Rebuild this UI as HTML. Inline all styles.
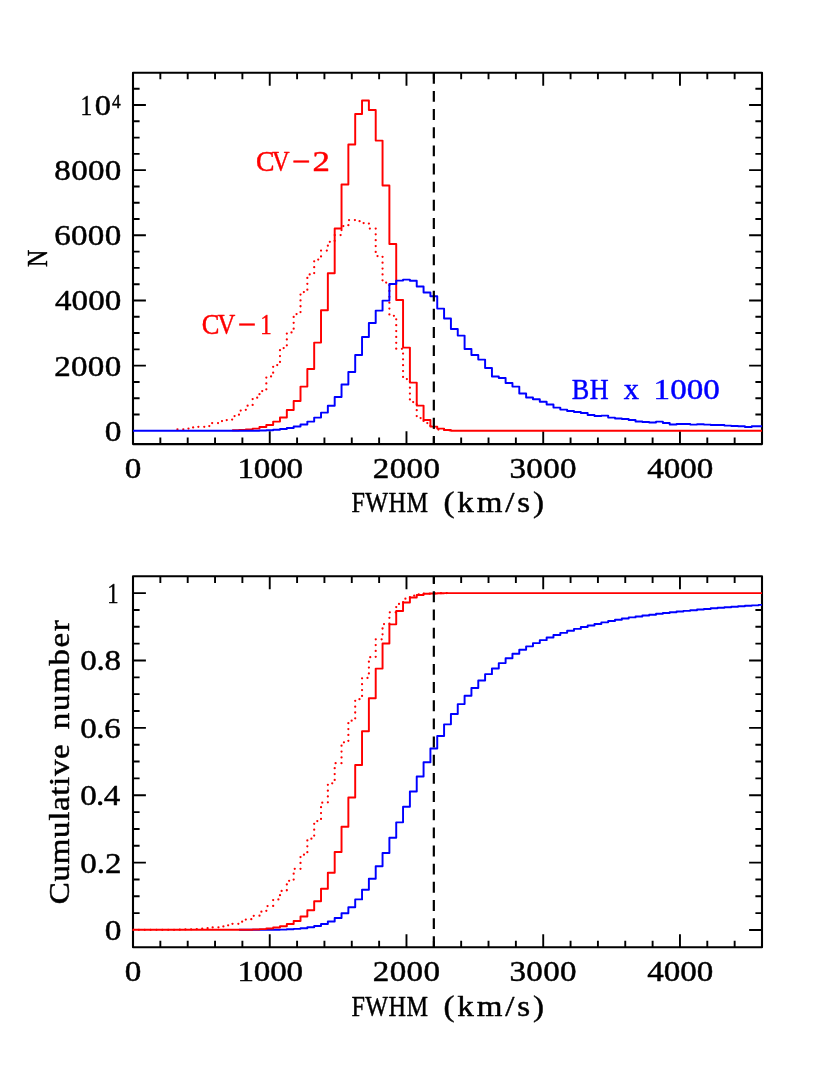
<!DOCTYPE html><html><head><meta charset="utf-8"><title>FWHM distributions</title><style>html,body{margin:0;padding:0;background:#fff}svg{display:block;will-change:transform}text{font-family:"Liberation Serif",serif;font-kerning:none;stroke-width:0.45px;stroke-linejoin:round}.k{fill:#000;stroke:#000}.r{fill:#f00;stroke:#f00}.b{fill:#00f;stroke:#00f}</style></head><body>
<svg width="830" height="1075" viewBox="0 0 830 1075">
<rect width="830" height="1075" fill="#fff"/>
<path d="M133.00 444.1 v-12.9 M133.00 72.75 v12.9 M160.35 444.1 v-6.6 M160.35 72.75 v6.6 M187.70 444.1 v-6.6 M187.70 72.75 v6.6 M215.04 444.1 v-6.6 M215.04 72.75 v6.6 M242.39 444.1 v-6.6 M242.39 72.75 v6.6 M269.74 444.1 v-12.9 M269.74 72.75 v12.9 M297.09 444.1 v-6.6 M297.09 72.75 v6.6 M324.43 444.1 v-6.6 M324.43 72.75 v6.6 M351.78 444.1 v-6.6 M351.78 72.75 v6.6 M379.13 444.1 v-6.6 M379.13 72.75 v6.6 M406.48 444.1 v-12.9 M406.48 72.75 v12.9 M433.83 444.1 v-6.6 M433.83 72.75 v6.6 M461.17 444.1 v-6.6 M461.17 72.75 v6.6 M488.52 444.1 v-6.6 M488.52 72.75 v6.6 M515.87 444.1 v-6.6 M515.87 72.75 v6.6 M543.22 444.1 v-12.9 M543.22 72.75 v12.9 M570.57 444.1 v-6.6 M570.57 72.75 v6.6 M597.91 444.1 v-6.6 M597.91 72.75 v6.6 M625.26 444.1 v-6.6 M625.26 72.75 v6.6 M652.61 444.1 v-6.6 M652.61 72.75 v6.6 M679.96 444.1 v-12.9 M679.96 72.75 v12.9 M707.30 444.1 v-6.6 M707.30 72.75 v6.6 M734.65 444.1 v-6.6 M734.65 72.75 v6.6 M762.00 444.1 v-6.6 M762.00 72.75 v6.6 M133.0 414.51 h6.6 M762.0 414.51 h-6.6 M133.0 398.22 h6.6 M762.0 398.22 h-6.6 M133.0 381.93 h6.6 M762.0 381.93 h-6.6 M133.0 365.64 h12.9 M762.0 365.64 h-12.9 M133.0 349.35 h6.6 M762.0 349.35 h-6.6 M133.0 333.06 h6.6 M762.0 333.06 h-6.6 M133.0 316.77 h6.6 M762.0 316.77 h-6.6 M133.0 300.48 h12.9 M762.0 300.48 h-12.9 M133.0 284.19 h6.6 M762.0 284.19 h-6.6 M133.0 267.90 h6.6 M762.0 267.90 h-6.6 M133.0 251.61 h6.6 M762.0 251.61 h-6.6 M133.0 235.32 h12.9 M762.0 235.32 h-12.9 M133.0 219.03 h6.6 M762.0 219.03 h-6.6 M133.0 202.74 h6.6 M762.0 202.74 h-6.6 M133.0 186.45 h6.6 M762.0 186.45 h-6.6 M133.0 170.16 h12.9 M762.0 170.16 h-12.9 M133.0 153.87 h6.6 M762.0 153.87 h-6.6 M133.0 137.58 h6.6 M762.0 137.58 h-6.6 M133.0 121.29 h6.6 M762.0 121.29 h-6.6 M133.0 105.00 h12.9 M762.0 105.00 h-12.9 M133.0 88.71 h6.6 M762.0 88.71 h-6.6" stroke="#000" stroke-width="1.9" fill="none"/>
<rect x="133.0" y="72.75" width="629.0" height="371.35" fill="none" stroke="#000" stroke-width="2.1" stroke-linejoin="round"/>
<clipPath id="c72"><rect x="132.4" y="72.75" width="630.2" height="371.35"/></clipPath>
<g clip-path="url(#c72)" fill="none" stroke-linejoin="round">
<path d="M177.44 429.30 L184.28 429.30 L184.28 428.60 L191.11 428.60 L191.11 427.40 L197.95 427.40 L197.95 426.80 L204.79 426.80 L204.79 426.00 L211.62 426.00 L211.62 423.00 L218.46 423.00 L218.46 421.10 L225.30 421.10 L225.30 420.00 L232.14 420.00 L232.14 416.10 L238.97 416.10 L238.97 410.50 L245.81 410.50 L245.81 405.70 L252.65 405.70 L252.65 397.70 L259.48 397.70 L259.48 391.00 L266.32 391.00 L266.32 376.40 L273.16 376.40 L273.16 365.00 L279.99 365.00 L279.99 348.00 L286.83 348.00 L286.83 332.40 L293.67 332.40 L293.67 314.00 L300.51 314.00 L300.51 292.00 L307.34 292.00 L307.34 274.40 L314.18 274.40 L314.18 259.50 L321.02 259.50 L321.02 250.50 L327.85 250.50 L327.85 241.80 L334.69 241.80 L334.69 235.00 L341.53 235.00 L341.53 226.00 L348.36 226.00 L348.36 220.00 L355.20 220.00 L355.20 221.20 L362.04 221.20 L362.04 223.00 L368.88 223.00 L368.88 228.50 L375.71 228.50 L375.71 256.00 L382.55 256.00 L382.55 282.50 L389.39 282.50 L389.39 315.80 L396.22 315.80 L396.22 348.80 L403.06 348.80 L403.06 379.00 L409.90 379.00 L409.90 402.00 L416.73 402.00 L416.73 418.00 L423.57 418.00 L423.57 423.00 L430.41 423.00 L430.41 428.00 L437.24 428.00 L437.24 429.50 L444.08 429.50 L444.08 430.30 L450.92 430.30" stroke="#f00" stroke-width="2.25" stroke-linecap="round" stroke-dasharray="0.01 5.85"/>
<path d="M232.14 430.30 L238.97 430.30 L238.97 430.00 L245.81 430.00 L245.81 429.50 L252.65 429.50 L252.65 428.60 L259.48 428.60 L259.48 427.00 L266.32 427.00 L266.32 425.00 L273.16 425.00 L273.16 421.60 L279.99 421.60 L279.99 417.40 L286.83 417.40 L286.83 410.00 L293.67 410.00 L293.67 401.00 L300.51 401.00 L300.51 386.60 L307.34 386.60 L307.34 369.00 L314.18 369.00 L314.18 342.60 L321.02 342.60 L321.02 310.20 L327.85 310.20 L327.85 273.20 L334.69 273.20 L334.69 228.40 L341.53 228.40 L341.53 184.40 L348.36 184.40 L348.36 144.40 L355.20 144.40 L355.20 114.00 L362.04 114.00 L362.04 100.40 L368.88 100.40 L368.88 110.00 L375.71 110.00 L375.71 140.60 L382.55 140.60 L382.55 185.40 L389.39 185.40 L389.39 244.00 L396.22 244.00 L396.22 300.00 L403.06 300.00 L403.06 347.60 L409.90 347.60 L409.90 382.60 L416.73 382.60 L416.73 405.60 L423.57 405.60 L423.57 420.00 L430.41 420.00 L430.41 426.60 L437.24 426.60 L437.24 428.60 L444.08 428.60 L444.08 430.00 L450.92 430.00 L450.92 430.75 L457.76 430.75 L457.76 430.75 L464.59 430.75 L464.59 430.75 L471.43 430.75 L471.43 430.75 L478.27 430.75 L478.27 430.75 L485.10 430.75 L485.10 430.75 L491.94 430.75 L491.94 430.75 L498.78 430.75 L498.78 430.75 L505.61 430.75 L505.61 430.75 L512.45 430.75 L512.45 430.75 L519.29 430.75 L519.29 430.75 L526.12 430.75 L526.12 430.75 L532.96 430.75 L532.96 430.75 L539.80 430.75 L539.80 430.75 L546.64 430.75 L546.64 430.75 L553.47 430.75 L553.47 430.75 L560.31 430.75 L560.31 430.75 L567.15 430.75 L567.15 430.75 L573.98 430.75 L573.98 430.75 L580.82 430.75 L580.82 430.75 L587.66 430.75 L587.66 430.75 L594.49 430.75 L594.49 430.75 L601.33 430.75 L601.33 430.75 L608.17 430.75 L608.17 430.75 L615.01 430.75 L615.01 430.75 L621.84 430.75 L621.84 430.75 L628.68 430.75 L628.68 430.75 L635.52 430.75 L635.52 430.75 L642.35 430.75 L642.35 430.75 L649.19 430.75 L649.19 430.75 L656.03 430.75 L656.03 430.75 L662.86 430.75 L662.86 430.75 L669.70 430.75 L669.70 430.75 L676.54 430.75 L676.54 430.75 L683.38 430.75 L683.38 430.75 L690.21 430.75 L690.21 430.75 L697.05 430.75 L697.05 430.75 L703.89 430.75 L703.89 430.75 L710.72 430.75 L710.72 430.75 L717.56 430.75 L717.56 430.75 L724.40 430.75 L724.40 430.75 L731.23 430.75 L731.23 430.75 L738.07 430.75 L738.07 430.75 L744.91 430.75 L744.91 430.75 L751.74 430.75 L751.74 430.75 L758.58 430.75 L758.58 430.75 L762.00 430.75" stroke="#f00" stroke-width="1.95"/>
<path d="M133.00 430.75 L136.42 430.75 L136.42 430.75 L143.26 430.75 L143.26 430.75 L150.09 430.75 L150.09 430.75 L156.93 430.75 L156.93 430.75 L163.77 430.75 L163.77 430.75 L170.60 430.75 L170.60 430.75 L177.44 430.75 L177.44 430.75 L184.28 430.75 L184.28 430.75 L191.11 430.75 L191.11 430.75 L197.95 430.75 L197.95 430.75 L204.79 430.75 L204.79 430.75 L211.62 430.75 L211.62 430.75 L218.46 430.75 L218.46 430.75 L225.30 430.75 L225.30 430.75 L232.14 430.75 L232.14 430.75 L238.97 430.75 L238.97 430.75 L245.81 430.75 L245.81 430.75 L252.65 430.75 L252.65 430.75 L259.48 430.75 L259.48 430.40 L266.32 430.40 L266.32 430.20 L273.16 430.20 L273.16 429.80 L279.99 429.80 L279.99 429.00 L286.83 429.00 L286.83 428.00 L293.67 428.00 L293.67 426.40 L300.51 426.40 L300.51 424.40 L307.34 424.40 L307.34 421.60 L314.18 421.60 L314.18 417.60 L321.02 417.60 L321.02 412.60 L327.85 412.60 L327.85 405.80 L334.69 405.80 L334.69 397.00 L341.53 397.00 L341.53 384.40 L348.36 384.40 L348.36 372.00 L355.20 372.00 L355.20 355.00 L362.04 355.00 L362.04 337.00 L368.88 337.00 L368.88 323.00 L375.71 323.00 L375.71 310.60 L382.55 310.60 L382.55 300.60 L389.39 300.60 L389.39 284.00 L396.22 284.00 L396.22 280.60 L403.06 280.60 L403.06 279.60 L409.90 279.60 L409.90 280.80 L416.73 280.80 L416.73 286.40 L423.57 286.40 L423.57 292.50 L430.41 292.50 L430.41 296.20 L437.24 296.20 L437.24 308.60 L444.08 308.60 L444.08 318.40 L450.92 318.40 L450.92 329.00 L457.76 329.00 L457.76 335.60 L464.59 335.60 L464.59 349.00 L471.43 349.00 L471.43 355.00 L478.27 355.00 L478.27 359.60 L485.10 359.60 L485.10 368.00 L491.94 368.00 L491.94 376.40 L498.78 376.40 L498.78 378.00 L505.61 378.00 L505.61 383.00 L512.45 383.00 L512.45 386.60 L519.29 386.60 L519.29 393.40 L526.12 393.40 L526.12 397.40 L532.96 397.40 L532.96 399.20 L539.80 399.20 L539.80 401.80 L546.64 401.80 L546.64 404.40 L553.47 404.40 L553.47 407.60 L560.31 407.60 L560.31 409.60 L567.15 409.60 L567.15 411.00 L573.98 411.00 L573.98 412.00 L580.82 412.00 L580.82 413.00 L587.66 413.00 L587.66 415.00 L594.49 415.00 L594.49 416.00 L601.33 416.00 L601.33 415.60 L608.17 415.60 L608.17 417.60 L615.01 417.60 L615.01 418.40 L621.84 418.40 L621.84 419.00 L628.68 419.00 L628.68 420.00 L635.52 420.00 L635.52 421.40 L642.35 421.40 L642.35 422.00 L649.19 422.00 L649.19 422.40 L656.03 422.40 L656.03 421.60 L662.86 421.60 L662.86 423.00 L669.70 423.00 L669.70 424.40 L676.54 424.40 L676.54 424.00 L683.38 424.00 L683.38 424.00 L690.21 424.00 L690.21 424.60 L697.05 424.60 L697.05 424.20 L703.89 424.20 L703.89 424.60 L710.72 424.60 L710.72 425.00 L717.56 425.00 L717.56 425.00 L724.40 425.00 L724.40 425.60 L731.23 425.60 L731.23 426.00 L738.07 426.00 L738.07 426.30 L744.91 426.30 L744.91 426.90 L751.74 426.90 L751.74 426.30 L758.58 426.30 L758.58 426.30 L762.00 426.30" stroke="#00f" stroke-width="1.95"/>
<path d="M433.83 72.75 L433.83 444.1" stroke="#000" stroke-width="2.2" stroke-dasharray="10.9 7.26"/>
</g>
<path d="M133.00 947.25 v-12.9 M133.00 576.3 v12.9 M160.35 947.25 v-6.6 M160.35 576.3 v6.6 M187.70 947.25 v-6.6 M187.70 576.3 v6.6 M215.04 947.25 v-6.6 M215.04 576.3 v6.6 M242.39 947.25 v-6.6 M242.39 576.3 v6.6 M269.74 947.25 v-12.9 M269.74 576.3 v12.9 M297.09 947.25 v-6.6 M297.09 576.3 v6.6 M324.43 947.25 v-6.6 M324.43 576.3 v6.6 M351.78 947.25 v-6.6 M351.78 576.3 v6.6 M379.13 947.25 v-6.6 M379.13 576.3 v6.6 M406.48 947.25 v-12.9 M406.48 576.3 v12.9 M433.83 947.25 v-6.6 M433.83 576.3 v6.6 M461.17 947.25 v-6.6 M461.17 576.3 v6.6 M488.52 947.25 v-6.6 M488.52 576.3 v6.6 M515.87 947.25 v-6.6 M515.87 576.3 v6.6 M543.22 947.25 v-12.9 M543.22 576.3 v12.9 M570.57 947.25 v-6.6 M570.57 576.3 v6.6 M597.91 947.25 v-6.6 M597.91 576.3 v6.6 M625.26 947.25 v-6.6 M625.26 576.3 v6.6 M652.61 947.25 v-6.6 M652.61 576.3 v6.6 M679.96 947.25 v-12.9 M679.96 576.3 v12.9 M707.30 947.25 v-6.6 M707.30 576.3 v6.6 M734.65 947.25 v-6.6 M734.65 576.3 v6.6 M762.00 947.25 v-6.6 M762.00 576.3 v6.6 M762.0 930.00 h-12.9 M133.0 913.15 h6.6 M762.0 913.15 h-6.6 M133.0 896.31 h6.6 M762.0 896.31 h-6.6 M133.0 879.47 h6.6 M762.0 879.47 h-6.6 M133.0 862.62 h12.9 M762.0 862.62 h-12.9 M133.0 845.77 h6.6 M762.0 845.77 h-6.6 M133.0 828.93 h6.6 M762.0 828.93 h-6.6 M133.0 812.09 h6.6 M762.0 812.09 h-6.6 M133.0 795.24 h12.9 M762.0 795.24 h-12.9 M133.0 778.39 h6.6 M762.0 778.39 h-6.6 M133.0 761.55 h6.6 M762.0 761.55 h-6.6 M133.0 744.70 h6.6 M762.0 744.70 h-6.6 M133.0 727.86 h12.9 M762.0 727.86 h-12.9 M133.0 711.01 h6.6 M762.0 711.01 h-6.6 M133.0 694.17 h6.6 M762.0 694.17 h-6.6 M133.0 677.33 h6.6 M762.0 677.33 h-6.6 M133.0 660.48 h12.9 M762.0 660.48 h-12.9 M133.0 643.63 h6.6 M762.0 643.63 h-6.6 M133.0 626.79 h6.6 M762.0 626.79 h-6.6 M133.0 609.94 h6.6 M762.0 609.94 h-6.6 M133.0 593.10 h12.9" stroke="#000" stroke-width="1.9" fill="none"/>
<rect x="133.0" y="576.3" width="629.0" height="370.95000000000005" fill="none" stroke="#000" stroke-width="2.1" stroke-linejoin="round"/>
<clipPath id="c576"><rect x="132.4" y="576.3" width="630.2" height="370.95000000000005"/></clipPath>
<g clip-path="url(#c576)" fill="none" stroke-linejoin="round">
<path d="M238.97 929.80 L245.81 929.80 L245.81 929.80 L252.65 929.80 L252.65 929.80 L259.48 929.80 L259.48 929.80 L266.32 929.80 L266.32 929.80 L273.16 929.80 L273.16 929.79 L279.99 929.79 L279.99 929.61 L286.83 929.61 L286.83 929.32 L293.67 929.32 L293.67 928.87 L300.51 928.87 L300.51 928.21 L307.34 928.21 L307.34 927.26 L314.18 927.26 L314.18 925.91 L321.02 925.91 L321.02 924.04 L327.85 924.04 L327.85 921.47 L334.69 921.47 L334.69 917.99 L341.53 917.99 L341.53 913.22 L348.36 913.22 L348.36 907.17 L355.20 907.17 L355.20 899.38 L362.04 899.38 L362.04 889.74 L368.88 889.74 L368.88 878.65 L375.71 878.65 L375.71 866.29 L382.55 866.29 L382.55 852.91 L389.39 852.91 L389.39 837.81 L396.22 837.81 L396.22 822.37 L403.06 822.37 L403.06 806.82 L409.90 806.82 L409.90 791.40 L416.73 791.40 L416.73 776.55 L423.57 776.55 L423.57 762.33 L430.41 762.33 L430.41 748.49 L437.24 748.49 L437.24 735.93 L444.08 735.93 L444.08 724.37 L450.92 724.37 L450.92 713.90 L457.76 713.90 L457.76 704.11 L464.59 704.11 L464.59 695.70 L471.43 695.70 L471.43 687.91 L478.27 687.91 L478.27 680.59 L485.10 680.59 L485.10 674.13 L491.94 674.13 L491.94 668.54 L498.78 668.54 L498.78 663.11 L505.61 663.11 L505.61 658.19 L512.45 658.19 L512.45 653.65 L519.29 653.65 L519.29 649.80 L526.12 649.80 L526.12 646.37 L532.96 646.37 L532.96 643.12 L539.80 643.12 L539.80 640.14 L546.64 640.14 L546.64 637.42 L553.47 637.42 L553.47 635.04 L560.31 635.04 L560.31 632.86 L567.15 632.86 L567.15 630.82 L573.98 630.82 L573.98 628.89 L580.82 628.89 L580.82 627.06 L587.66 627.06 L587.66 625.44 L594.49 625.44 L594.49 623.91 L601.33 623.91 L601.33 622.35 L608.17 622.35 L608.17 620.99 L615.01 620.99 L615.01 619.72 L621.84 619.72 L621.84 618.50 L628.68 618.50 L628.68 617.39 L635.52 617.39 L635.52 616.43 L642.35 616.43 L642.35 615.52 L649.19 615.52 L649.19 614.66 L656.03 614.66 L656.03 613.71 L662.86 613.71 L662.86 612.91 L669.70 612.91 L669.70 612.25 L676.54 612.25 L676.54 611.55 L683.38 611.55 L683.38 610.86 L690.21 610.86 L690.21 610.22 L697.05 610.22 L697.05 609.54 L703.89 609.54 L703.89 608.90 L710.72 608.90 L710.72 608.31 L717.56 608.31 L717.56 607.71 L724.40 607.71 L724.40 607.17 L731.23 607.17 L731.23 606.68 L738.07 606.68 L738.07 606.22 L744.91 606.22 L744.91 605.82 L751.74 605.82 L751.74 605.35 L758.58 605.35 L758.58 604.89 L762.00 604.89" stroke="#00f" stroke-width="1.95"/>
<path d="M133.00 929.80 L136.42 929.80 L136.42 929.80 L143.26 929.80 L143.26 929.80 L150.09 929.80 L150.09 929.80 L156.93 929.80 L156.93 929.80 L163.77 929.80 L163.77 929.80 L170.60 929.80 L170.60 929.80 L177.44 929.80 L177.44 929.68 L184.28 929.68 L184.28 929.46 L191.11 929.46 L191.11 929.11 L197.95 929.11 L197.95 928.70 L204.79 928.70 L204.79 928.21 L211.62 928.21 L211.62 927.41 L218.46 927.41 L218.46 926.42 L225.30 926.42 L225.30 925.31 L232.14 925.31 L232.14 923.80 L238.97 923.80 L238.97 921.73 L245.81 921.73 L245.81 919.16 L252.65 919.16 L252.65 915.77 L259.48 915.77 L259.48 911.69 L266.32 911.69 L266.32 906.12 L273.16 906.12 L273.16 899.38 L279.99 899.38 L279.99 890.90 L286.83 890.90 L286.83 880.82 L293.67 880.82 L293.67 868.86 L300.51 868.86 L300.51 854.65 L307.34 854.65 L307.34 838.63 L314.18 838.63 L314.18 821.09 L321.02 821.09 L321.02 802.63 L327.85 802.63 L327.85 783.27 L334.69 783.27 L334.69 763.22 L341.53 763.22 L341.53 742.25 L348.36 742.25 L348.36 720.66 L355.20 720.66 L355.20 699.19 L362.04 699.19 L362.04 677.91 L368.88 677.91 L368.88 657.20 L375.71 657.20 L375.71 639.30 L382.55 639.30 L382.55 624.11 L389.39 624.11 L389.39 612.33 L396.22 612.33 L396.22 603.93 L403.06 603.93 L403.06 598.63 L409.90 598.63 L409.90 595.68 L416.73 595.68 L416.73 594.37 L423.57 594.37 L423.57 593.57 L430.41 593.57 L430.41 593.28 L437.24 593.28 L437.24 593.15 L444.08 593.15 L444.08 593.10 L450.92 593.10" stroke="#f00" stroke-width="2.25" stroke-linecap="round" stroke-dasharray="0.01 5.85"/>
<path d="M133.00 929.80 L136.42 929.80 L136.42 929.80 L143.26 929.80 L143.26 929.80 L150.09 929.80 L150.09 929.80 L156.93 929.80 L156.93 929.80 L163.77 929.80 L163.77 929.80 L170.60 929.80 L170.60 929.80 L177.44 929.80 L177.44 929.80 L184.28 929.80 L184.28 929.80 L191.11 929.80 L191.11 929.80 L197.95 929.80 L197.95 929.80 L204.79 929.80 L204.79 929.80 L211.62 929.80 L211.62 929.80 L218.46 929.80 L218.46 929.80 L225.30 929.80 L225.30 929.80 L232.14 929.80 L232.14 929.80 L238.97 929.80 L238.97 929.80 L245.81 929.80 L245.81 929.73 L252.65 929.73 L252.65 929.51 L259.48 929.51 L259.48 929.12 L266.32 929.12 L266.32 928.53 L273.16 928.53 L273.16 927.58 L279.99 927.58 L279.99 926.21 L286.83 926.21 L286.83 924.08 L293.67 924.08 L293.67 921.03 L300.51 921.03 L300.51 916.51 L307.34 916.51 L307.34 910.18 L314.18 910.18 L314.18 901.15 L321.02 901.15 L321.02 888.81 L327.85 888.81 L327.85 872.67 L334.69 872.67 L334.69 851.95 L341.53 851.95 L341.53 826.73 L348.36 826.73 L348.36 797.41 L355.20 797.41 L355.20 764.98 L362.04 764.98 L362.04 731.16 L368.88 731.16 L368.88 698.32 L375.71 698.32 L375.71 668.61 L382.55 668.61 L382.55 643.49 L389.39 643.49 L389.39 624.36 L396.22 624.36 L396.22 610.97 L403.06 610.97 L403.06 602.46 L409.90 602.46 L409.90 597.52 L416.73 597.52 L416.73 594.94 L423.57 594.94 L423.57 593.84 L430.41 593.84 L430.41 593.41 L437.24 593.41 L437.24 593.18 L444.08 593.18 L444.08 593.10 L450.92 593.10 L450.92 593.10 L457.76 593.10 L457.76 593.10 L464.59 593.10 L464.59 593.10 L471.43 593.10 L471.43 593.10 L478.27 593.10 L478.27 593.10 L485.10 593.10 L485.10 593.10 L491.94 593.10 L491.94 593.10 L498.78 593.10 L498.78 593.10 L505.61 593.10 L505.61 593.10 L512.45 593.10 L512.45 593.10 L519.29 593.10 L519.29 593.10 L526.12 593.10 L526.12 593.10 L532.96 593.10 L532.96 593.10 L539.80 593.10 L539.80 593.10 L546.64 593.10 L546.64 593.10 L553.47 593.10 L553.47 593.10 L560.31 593.10 L560.31 593.10 L567.15 593.10 L567.15 593.10 L573.98 593.10 L573.98 593.10 L580.82 593.10 L580.82 593.10 L587.66 593.10 L587.66 593.10 L594.49 593.10 L594.49 593.10 L601.33 593.10 L601.33 593.10 L608.17 593.10 L608.17 593.10 L615.01 593.10 L615.01 593.10 L621.84 593.10 L621.84 593.10 L628.68 593.10 L628.68 593.10 L635.52 593.10 L635.52 593.10 L642.35 593.10 L642.35 593.10 L649.19 593.10 L649.19 593.10 L656.03 593.10 L656.03 593.10 L662.86 593.10 L662.86 593.10 L669.70 593.10 L669.70 593.10 L676.54 593.10 L676.54 593.10 L683.38 593.10 L683.38 593.10 L690.21 593.10 L690.21 593.10 L697.05 593.10 L697.05 593.10 L703.89 593.10 L703.89 593.10 L710.72 593.10 L710.72 593.10 L717.56 593.10 L717.56 593.10 L724.40 593.10 L724.40 593.10 L731.23 593.10 L731.23 593.10 L738.07 593.10 L738.07 593.10 L744.91 593.10 L744.91 593.10 L751.74 593.10 L751.74 593.10 L758.58 593.10 L758.58 593.10 L762.00 593.10" stroke="#f00" stroke-width="1.95"/>
<path d="M433.83 947.25 L433.83 576.3" stroke="#000" stroke-width="2.2" stroke-dasharray="10.9 7.26"/>
</g>
<text class="k" transform="translate(54.17,375.54) scale(1.1600,1)" style="font-size:28.5px;letter-spacing:0.271px">2000</text>
<text class="k" transform="translate(54.98,310.38) scale(1.1600,1)" style="font-size:28.5px;letter-spacing:0.039px">4000</text>
<text class="k" transform="translate(54.20,245.22) scale(1.1600,1)" style="font-size:28.5px;letter-spacing:0.261px">6000</text>
<text class="k" transform="translate(54.37,180.06) scale(1.1600,1)" style="font-size:28.5px;letter-spacing:0.215px">8000</text>
<text class="k" transform="translate(104.75,440.70) scale(1.1714,1)" style="font-size:28.5px">0</text>
<text class="k" transform="translate(80.39,115.30) scale(0.8123,1)" style="font-size:28.5px">1</text>
<text class="k" transform="translate(94.79,115.30) scale(1.1383,1)" style="font-size:28.5px">0</text>
<text class="k" transform="translate(111.89,107.50) scale(0.9621,1)" style="font-size:18px">4</text>
<text class="k" transform="translate(124.76,477.55) scale(1.1632,1)" style="font-size:28.5px">0</text>
<text class="k" transform="translate(237.42,477.55) scale(1.1600,1)" style="font-size:28.5px;letter-spacing:-0.116px">1000</text>
<text class="k" transform="translate(372.85,477.55) scale(1.1600,1)" style="font-size:28.5px;letter-spacing:0.271px">2000</text>
<text class="k" transform="translate(509.46,477.55) scale(1.1600,1)" style="font-size:28.5px;letter-spacing:0.308px">3000</text>
<text class="k" transform="translate(647.14,477.55) scale(1.1600,1)" style="font-size:28.5px;letter-spacing:0.039px">4000</text>
<text class="k" transform="translate(351.43,512.45) scale(0.8490,1)" style="font-size:28.5px;letter-spacing:0.500px">FWHM</text>
<text class="k" transform="translate(443.47,512.45) scale(1.1600,1)" style="font-size:28.5px;letter-spacing:2.455px">(km/s)</text>
<text class="k" transform="translate(124.76,981.20) scale(1.1632,1)" style="font-size:28.5px">0</text>
<text class="k" transform="translate(237.42,981.20) scale(1.1600,1)" style="font-size:28.5px;letter-spacing:-0.116px">1000</text>
<text class="k" transform="translate(372.85,981.20) scale(1.1600,1)" style="font-size:28.5px;letter-spacing:0.271px">2000</text>
<text class="k" transform="translate(509.46,981.20) scale(1.1600,1)" style="font-size:28.5px;letter-spacing:0.308px">3000</text>
<text class="k" transform="translate(647.14,981.20) scale(1.1600,1)" style="font-size:28.5px;letter-spacing:0.039px">4000</text>
<text class="k" transform="translate(351.43,1016.10) scale(0.8490,1)" style="font-size:28.5px;letter-spacing:0.500px">FWHM</text>
<text class="k" transform="translate(443.47,1016.10) scale(1.1600,1)" style="font-size:28.5px;letter-spacing:2.455px">(km/s)</text>
<text class="k" transform="translate(80.17,872.52) scale(1.1600,1)" style="font-size:28.5px;letter-spacing:0.004px">0.2</text>
<text class="k" transform="translate(80.17,805.14) scale(1.1600,1)" style="font-size:28.5px;letter-spacing:-0.560px">0.4</text>
<text class="k" transform="translate(80.17,737.76) scale(1.1600,1)" style="font-size:28.5px;letter-spacing:-0.358px">0.6</text>
<text class="k" transform="translate(80.17,670.38) scale(1.1600,1)" style="font-size:28.5px;letter-spacing:-0.240px">0.8</text>
<text class="k" transform="translate(104.75,939.90) scale(1.1714,1)" style="font-size:28.5px">0</text>
<text class="k" transform="translate(107.24,603.00) scale(0.7923,1)" style="font-size:28.5px">1</text>
<text class="r" transform="translate(256.09,170.80) scale(0.9743,1)" style="font-size:28.5px">C</text>
<text class="r" transform="translate(272.05,170.80) scale(0.8550,1)" style="font-size:28.5px">V</text>
<text class="r" transform="translate(291.79,170.80) scale(1.1499,1)" style="font-size:28.5px">−</text>
<text class="r" transform="translate(312.40,170.80) scale(1.2210,1)" style="font-size:28.5px">2</text>
<text class="r" transform="translate(201.84,333.70) scale(0.9313,1)" style="font-size:28.5px">C</text>
<text class="r" transform="translate(217.45,333.70) scale(0.8650,1)" style="font-size:28.5px">V</text>
<text class="r" transform="translate(237.39,333.70) scale(1.1499,1)" style="font-size:28.5px">−</text>
<text class="r" transform="translate(260.22,333.70) scale(0.8023,1)" style="font-size:28.5px">1</text>
<text class="b" transform="translate(571.77,398.80) scale(0.9197,1)" style="font-size:28.5px;letter-spacing:0.500px">BH</text>
<text class="b" transform="translate(623.86,398.80) scale(1.0658,1)" style="font-size:28.5px">x</text>
<text class="b" transform="translate(653.62,398.80) scale(1.1600,1)" style="font-size:28.5px;letter-spacing:-0.001px">1000</text>
<text class="k" transform="translate(47.00,266.96) rotate(-90) scale(0.8400,1)" style="font-size:28.5px">N</text>
<text class="k" transform="translate(69.00,904.13) rotate(-90) scale(1.1600,1)" style="font-size:28.5px;letter-spacing:0.536px">Cumulative</text>
<text class="k" transform="translate(69.00,729.13) rotate(-90) scale(1.1600,1)" style="font-size:28.5px;letter-spacing:1.381px">number</text>
</svg></body></html>
